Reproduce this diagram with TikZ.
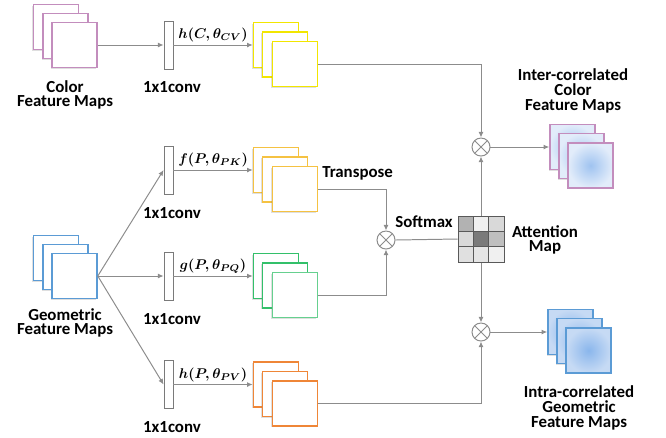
\documentclass[tikz,border=0pt]{standalone}
\usepackage[no-math]{fontspec}
\setmainfont{Carlito}
\usepackage{bm}
\usetikzlibrary{arrows.meta,shadows}

\definecolor{linegray}{HTML}{8C8C8C}
\definecolor{convgray}{HTML}{7A7A7A}
\definecolor{colpink}{HTML}{C38DBD}
\definecolor{geoblue}{HTML}{5B9BD5}
\definecolor{cvyellow}{HTML}{F2E600}
\definecolor{pkgold}{HTML}{F5C242}
\definecolor{pqgreen}{HTML}{33C06A}
\definecolor{pvorange}{HTML}{EF8637}
\definecolor{interin}{HTML}{9FC3F0}
\definecolor{interout}{HTML}{E2ECFA}
\definecolor{intrain}{HTML}{8AB6EC}
\definecolor{intraout}{HTML}{C6DAF4}

\begin{document}
\begin{tikzpicture}[
        x=0.025cm, y=-0.025cm,
        fmap/.style={
            rectangle,
            draw=#1,
            fill=white,
            line width=1.1pt,
            minimum size=1.125cm,
            inner sep=0pt,
            drop shadow={shadow xshift=-0.8pt, shadow yshift=-0.8pt, opacity=0.25}
        },
        intermap/.style={
            fmap=colpink,
            inner color=interin,
            outer color=interout
        },
        intramap/.style={
            fmap=geoblue,
            inner color=intrain,
            outer color=intraout
        },
        conv/.style={
            rectangle,
            draw=convgray,
            fill=white,
            line width=0.6pt,
            minimum width=0.225cm,
            minimum height=1.2cm,
            inner sep=0pt
        },
        mult/.style={
            circle,
            draw=linegray,
            fill=white,
            line width=0.7pt,
            minimum size=0.45cm,
            inner sep=0pt,
            path picture={
                \draw[linegray, line width=0.7pt]
                    (path picture bounding box.north west) -- (path picture bounding box.south east)
                    (path picture bounding box.south west) -- (path picture bounding box.north east);
            }
        },
        link/.style={
            draw=linegray,
            line width=0.7pt,
            -{Latex[length=4pt,width=3.5pt]}
        },
        wire/.style={
            draw=linegray,
            line width=0.7pt
        },
        txt/.style={
            font=\fontsize{12}{10.5}\selectfont\bfseries,
            align=center,
            inner sep=0pt
        },
        fn/.style={
            font=\fontsize{10}{12}\selectfont\boldmath,
            inner sep=1.5pt
        }
    ]

    \useasboundingbox (0,0) rectangle (666,437);

    % Mapas de entrada
    \node[fmap=colpink] (cf1) at (56,27) {};
    \node[fmap=colpink] (cf2) at (65.5,36) {};
    \node[fmap=colpink] (cf3) at (74.5,45) {};
    \node[txt] (cflab) at (65,95) {Color\\Feature Maps};

    \node[fmap=geoblue] (gf1) at (56,258) {};
    \node[fmap=geoblue] (gf2) at (65.5,267) {};
    \node[fmap=geoblue] (gf3) at (74.5,276) {};
    \node[txt] (gflab) at (65,323) {Geometric\\Feature Maps};

    % Convoluciones 1x1
    \node[conv] (cv1) at (168.5,45) {};
    \node[conv] (cv2) at (168.5,170) {};
    \node[conv] (cv3) at (168.5,276) {};
    \node[conv] (cv4) at (168.5,384.5) {};

    \node[txt] (cv1lab) at (172,87) {1x1conv};
    \node[txt] (cv2lab) at (172,213) {1x1conv};
    \node[txt] (cv3lab) at (172,319) {1x1conv};
    \node[txt] (cv4lab) at (172,427) {1x1conv};

    % Mapas transformados
    \node[fmap=cvyellow] (yh1) at (276,45) {};
    \node[fmap=cvyellow] (yh2) at (285,54.5) {};
    \node[fmap=cvyellow] (yh3) at (295,64) {};

    \node[fmap=pkgold] (pk1) at (276,170) {};
    \node[fmap=pkgold] (pk2) at (285,179.5) {};
    \node[fmap=pkgold] (pk3) at (295,189) {};

    \node[fmap=pqgreen] (pq1) at (276,276) {};
    \node[fmap=pqgreen] (pq2) at (285,285.5) {};
    \node[fmap=pqgreen!75] (pq3) at (295,295) {};

    \node[fmap=pvorange] (pv1) at (276,384.5) {};
    \node[fmap=pvorange] (pv2) at (285,394) {};
    \node[fmap=pvorange] (pv3) at (295,403.5) {};

    % Productos
    \node[mult] (m1) at (386,240) {};
    \node[mult] (m2) at (481,147) {};
    \node[mult] (m3) at (481,332) {};

    % Mapa de atencion
    \foreach \k/\r/\c in {30/0/0, 6/0/1, 15/0/2,
                          15/1/0, 52/1/1, 25/1/2,
                          12/2/0, 10/2/1, 6/2/2}
        \filldraw[fill=black!\k, draw=black!65, line width=0.5pt]
            ({458+\c*15.33},{216+\r*15.33}) rectangle ++(15.33,15.33);
    \node[rectangle, draw=black!65, line width=0.7pt, minimum size=1.15cm, inner sep=0pt]
        (att) at (481,239) {};
    \node[txt] (smlab) at (424,222) {Softmax};
    \node[txt] (attlab) at (545,240) {Attention\\Map};
    \node[txt, anchor=west] (trlab) at (322,173) {Transpose};

    % Mapas de salida
    \node[intermap] (ic1) at (572.5,147) {};
    \node[intermap] (ic2) at (581.5,156) {};
    \node[intermap] (ic3) at (590.5,165.5) {};
    \node[txt] (iclab) at (573,91) {Inter-correlated\\Color\\Feature Maps};

    \node[intramap] (ig1) at (570.5,332) {};
    \node[intramap] (ig2) at (579.5,341) {};
    \node[intramap] (ig3) at (588.5,350.5) {};
    \node[txt] (iglab) at (579,408) {Intra-correlated\\Geometric\\Feature Maps};

    % Flechas
    \draw[link] (cf3.east) -- (cv1.west);
    \draw[link] (gf3.east) -- (cv2.west);
    \draw[link] (gf3.east) -- (cv3.west);
    \draw[link] (gf3.east) -- (cv4.west);

    \draw[link] (cv1.east) -- node[fn, above] {$\bm{h(C,\theta_{CV})}$} (yh1.west);
    \draw[link] (cv2.east) -- node[fn, above] {$\bm{f(P,\theta_{PK})}$} (pk1.west);
    \draw[link] (cv3.east) -- node[fn, above] {$\bm{g(P,\theta_{PQ})}$} (pq1.west);
    \draw[link] (cv4.east) -- node[fn, above] {$\bm{h(P,\theta_{PV})}$} (pv1.west);

    \draw[link] (pk3.east) -| (m1.north);
    \draw[link] (pq3.east) -| (m1.south);
    \draw[wire] (m1.east) -- (att.west);

    \draw[link] (yh3.east) -| (m2.north);
    \draw[link] (att.north) -- (m2.south);
    \draw[link] (att.south) -- (m3.north);
    \draw[link] (pv3.east) -| (m3.south);

    \draw[link] (m2.east) -- (ic1.west);
    \draw[link] (m3.east) -- (ig1.west);

    \end{tikzpicture}
\end{document}
